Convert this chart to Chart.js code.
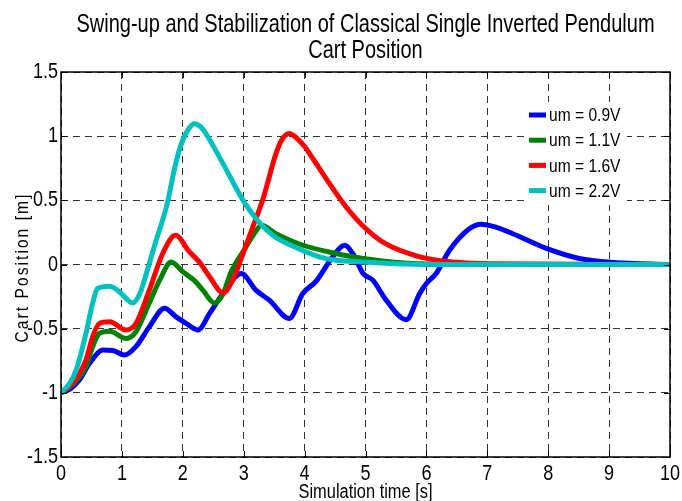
<!DOCTYPE html>
<html>
<head>
<meta charset="utf-8">
<script src="https://cdn.jsdelivr.net/npm/chart.js@4.4.1/dist/chart.umd.min.js"></script>
<style>
  html, body { margin: 0; padding: 0; background: #fff; }
  #wrap { width: 682px; height: 501px; }
</style>
</head>
<body>
<div id="wrap"><canvas id="c" width="682" height="501"></canvas></div>
<script>
// values (time in s, cart position in m)
const seriesLabels = ['um = 0.9V', 'um = 1.1V', 'um = 1.6V', 'um = 2.2V'];
const seriesColors = ['#0000ff', '#008000', '#ff0000', '#00bfbf'];

const t09 = [0, 0.15, 0.30, 0.47, 0.69, 0.85, 1.04, 1.23, 1.45, 1.70, 1.89, 2.06, 2.25, 2.44, 2.66, 2.96, 3.2, 3.42, 3.75, 3.97, 4.19, 4.46, 4.66, 4.79, 4.96, 5.12, 5.34, 5.67, 5.89, 6.0, 6.16, 6.38, 6.71, 6.9, 7.15, 7.42, 7.97, 8.51, 9.06, 10];
const y09 = [-1, -0.97, -0.90, -0.77, -0.667, -0.67, -0.706, -0.64, -0.486, -0.34, -0.408, -0.46, -0.51, -0.381, -0.226, -0.07, -0.2, -0.278, -0.42, -0.226, -0.13, 0.06, 0.15, 0.086, -0.07, -0.122, -0.278, -0.43, -0.226, -0.148, -0.07, 0.111, 0.28, 0.314, 0.29, 0.24, 0.125, 0.047, 0.016, 0];

const t11 = [0, 0.2, 0.41, 0.52, 0.63, 0.80, 1.07, 1.23, 1.45, 1.62, 1.81, 2.0, 2.2, 2.33, 2.52, 2.66, 2.79, 2.99, 3.2, 3.29, 3.53, 3.97, 4.52, 4.96, 5.89, 7, 10];
const y11 = [-1, -0.93, -0.797, -0.64, -0.537, -0.52, -0.576, -0.524, -0.30, -0.122, 0.02, -0.057, -0.13, -0.2, -0.30, -0.23, -0.06, 0.10, 0.26, 0.306, 0.24, 0.15, 0.086, 0.047, 0.005, 0, 0];

const t16 = [0, 0.2, 0.41, 0.52, 0.63, 0.80, 1.07, 1.23, 1.45, 1.67, 1.88, 2.11, 2.27, 2.44, 2.66, 2.82, 2.99, 3.15, 3.31, 3.53, 3.63, 3.75, 3.88, 4.0, 4.13, 4.41, 4.68, 4.96, 5.3, 5.89, 6.43, 7, 10];
const y16 = [-1, -0.92, -0.745, -0.563, -0.46, -0.447, -0.51, -0.46, -0.2, 0.086, 0.228, 0.098, 0.02, -0.096, -0.221, -0.122, 0.086, 0.293, 0.5, 0.864, 0.975, 1.02, 0.98, 0.92, 0.83, 0.63, 0.45, 0.30, 0.17, 0.06, 0.02, 0.005, 0];

const t22 = [0, 0.14, 0.25, 0.41, 0.52, 0.60, 0.80, 0.96, 1.18, 1.30, 1.37, 1.55, 1.73, 1.89, 2.0, 2.1, 2.19, 2.3, 2.38, 2.66, 2.99, 3.2, 3.31, 3.5, 3.75, 4.24, 4.52, 4.96, 5.5, 6.5, 10];
const y22 = [-1, -0.926, -0.82, -0.537, -0.30, -0.187, -0.169, -0.213, -0.299, -0.22, -0.12, 0.17, 0.448, 0.80, 0.97, 1.06, 1.097, 1.07, 1.02, 0.786, 0.5, 0.36, 0.30, 0.22, 0.155, 0.06, 0.033, 0.02, 0.005, 0, 0];

const xTicks = [0, 1, 2, 3, 4, 5, 6, 7, 8, 9, 10];
const yTicks = [-1.5, -1, -0.5, 0, 0.5, 1, 1.5];

const FONT = "'Liberation Sans', Arial, sans-serif";
const NARROW = 0.82; // squeeze to look like the narrow matlab font

function pts(ts, ys) { return ts.map((t, i) => ({ x: t, y: ys[i] })); }
const allT = [t09, t11, t16, t22], allY = [y09, y11, y16, y22];

const datasets = seriesLabels.map((lab, i) => ({
  label: lab,
  data: pts(allT[i], allY[i]),
  borderColor: seriesColors[i],
  backgroundColor: seriesColors[i],
  borderWidth: 5,
  pointRadius: 0,
  fill: false,
  cubicInterpolationMode: 'monotone',
  order: seriesLabels.length - 1 - i   // last series on top, like matlab
}));

function narrowText(ctx, txt, x, y, size, align, baseline, rot, sx) {
  ctx.save();
  ctx.translate(x, y);
  if (rot) ctx.rotate(rot);
  ctx.scale(sx || NARROW, 1);
  ctx.font = size + 'px ' + FONT;
  ctx.textAlign = align || 'left';
  ctx.textBaseline = baseline || 'alphabetic';
  ctx.fillStyle = '#000';
  ctx.fillText(txt, 0, 0);
  ctx.restore();
}

// texts, box, inward ticks and the legend
const decor = {
  id: 'decor',
  afterDatasetsDraw(chart) {
    const ctx = chart.ctx;
    // legend
    ctx.save();
    ctx.fillStyle = '#fff';
    ctx.fillRect(525, 102, 102, 103);
    chart.data.datasets.forEach((ds, i) => {
      const y = 115 + i * 25.2;
      ctx.strokeStyle = ds.borderColor;
      ctx.lineWidth = 5;
      ctx.beginPath(); ctx.moveTo(529, y); ctx.lineTo(546, y); ctx.stroke();
      narrowText(ctx, ds.label, 549, y + 1, 19, 'left', 'middle');
    });
    ctx.restore();
  },
  afterDraw(chart) {
    const ctx = chart.ctx, a = chart.chartArea;
    const xs = chart.scales.x, ys = chart.scales.y;
    ctx.save();
    ctx.strokeStyle = '#000';
    ctx.lineWidth = 1.5;
    ctx.strokeRect(a.left, a.top, a.right - a.left, a.bottom - a.top);
    ctx.lineWidth = 1;
    ctx.beginPath();
    xTicks.forEach(v => {
      const x = Math.round(xs.getPixelForValue(v)) + 0.5;
      ctx.moveTo(x, a.bottom); ctx.lineTo(x, a.bottom - 6);
      ctx.moveTo(x, a.top); ctx.lineTo(x, a.top + 6);
    });
    yTicks.forEach(v => {
      const y = Math.round(ys.getPixelForValue(v)) + 0.5;
      ctx.moveTo(a.left, y); ctx.lineTo(a.left + 6, y);
      ctx.moveTo(a.right, y); ctx.lineTo(a.right - 6, y);
    });
    ctx.stroke();
    ctx.restore();

    // tick labels
    xTicks.forEach(v => narrowText(ctx, String(v), xs.getPixelForValue(v), a.bottom + 23, 22, 'center'));
    yTicks.forEach(v => narrowText(ctx, String(v), a.left - 3, ys.getPixelForValue(v), 22, 'right', 'middle'));

    const cx = (a.left + a.right) / 2;
    narrowText(ctx, 'Swing-up and Stabilization of Classical Single Inverted Pendulum', cx, 32, 25, 'center', 'alphabetic', 0, 0.8);
    narrowText(ctx, 'Cart Position', cx, 58, 25, 'center', 'alphabetic', 0, 0.8);
    narrowText(ctx, 'Simulation time [s]', cx, 498, 20, 'center');
    ctx.save();
    ctx.letterSpacing = '2.5px';
    narrowText(ctx, 'Cart Position [m]', 28, (a.top + a.bottom) / 2 + 3, 19, 'center', 'alphabetic', -Math.PI / 2);
    ctx.restore();
  }
};

new Chart(document.getElementById('c'), {
  type: 'line',
  data: { datasets },
  options: {
    responsive: false,
    animation: false,
    devicePixelRatio: 1,
    layout: { padding: { top: 72, right: 12, left: 0, bottom: 0 } },
    plugins: { legend: { display: false }, title: { display: false }, tooltip: { enabled: false } },
    scales: {
      x: {
        type: 'linear', min: 0, max: 10,
        afterBuildTicks: s => { s.ticks = xTicks.map(v => ({ value: v })); },
        afterFit: s => { s.height = 44; },
        ticks: { display: false },
        grid: { color: '#333', lineWidth: 1, drawTicks: false },
        border: { display: false, dash: [7, 5] }
      },
      y: {
        type: 'linear', min: -1.5, max: 1.5,
        afterBuildTicks: s => { s.ticks = yTicks.map(v => ({ value: v })); },
        afterFit: s => { s.width = 61; },
        ticks: { display: false },
        grid: { color: '#333', lineWidth: 1, drawTicks: false },
        border: { display: false, dash: [7, 5] }
      }
    }
  },
  plugins: [decor]
});
</script>
</body>
</html>
